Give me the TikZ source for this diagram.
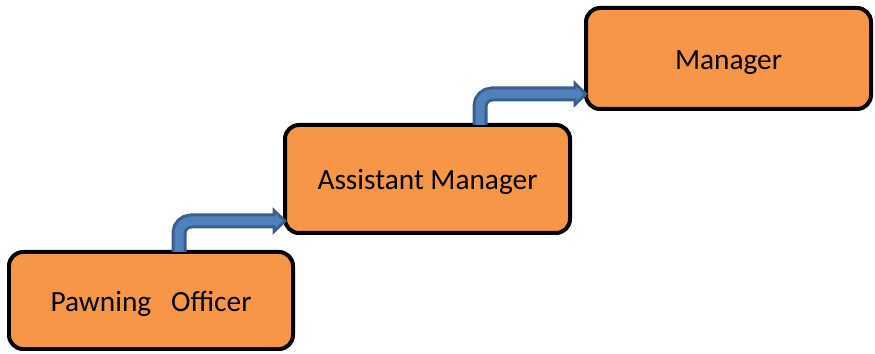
\documentclass[tikz,border=0pt]{standalone}
\usepackage{fontspec}
\setmainfont{Carlito}
\usetikzlibrary{arrows.meta,calc}

\definecolor{boxorange}{HTML}{F79646}
\definecolor{arrowedge}{HTML}{3A5F8E}
\definecolor{arrowbody}{HTML}{4F81BD}

\tikzset{
  rankbox/.style={draw=black, fill=boxorange, line width=0.08cm,
    rounded corners=0.28cm, inner sep=0pt, outer sep=0pt,
    font=\fontsize{16.7}{20}\selectfont,
    text height=1.4em, text depth=0.18em},
  stepedge/.style={arrowedge, line width=0.30cm, rounded corners=0.24cm,
    -{Triangle[length=0.29cm, width=0.54cm]}},
  stepbody/.style={arrowbody, line width=0.18cm, rounded corners=0.24cm,
    shorten >=0.085cm, -{Triangle[length=0.15cm, width=0.28cm]}}
}

\begin{document}
\begin{tikzpicture}[x=0.02cm, y=-0.02cm]
  \useasboundingbox (0,0) rectangle (875,354);

  % career ladder boxes
  \node[rankbox, minimum width=284*0.02cm, minimum height=97*0.02cm]
    (b1) at (151,300.5) {Pawning\ \ \ Officer};
  \node[rankbox, minimum width=285*0.02cm, minimum height=108*0.02cm]
    (b2) at (427.5,179) {Assistant Manager};
  \node[rankbox, minimum width=285*0.02cm, minimum height=101*0.02cm]
    (b3) at (728.5,58.5) {Manager};

  % start and end points of the step arrows
  \coordinate (s1) at ($(b1.north west)+(170,0)$);
  \coordinate (t1) at ($(b2.south west)+(2,-12)$);
  \coordinate (s2) at ($(b2.north west)+(195,0)$);
  \coordinate (t2) at ($(b3.south west)+(2,-15)$);

  % step arrows: dark outline first, lighter body on top
  \draw[stepedge] (s1) |- (t1);
  \draw[stepbody] (s1) |- (t1);
  \draw[stepedge] (s2) |- (t2);
  \draw[stepbody] (s2) |- (t2);
\end{tikzpicture}
\end{document}
